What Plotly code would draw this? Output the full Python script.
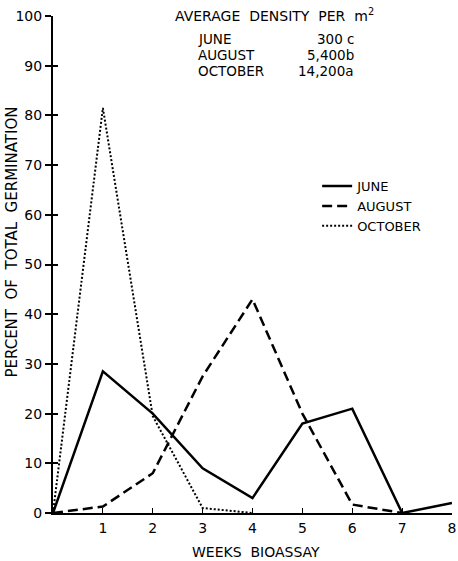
import plotly.graph_objects as go

weeks = [0, 1, 2, 3, 4, 5, 6, 7, 8]
june = [0, 28.5, 20, 9, 3, 18, 21, 0, 2]
august = [0, 1.3, 8, 27.5, 43, 20, 1.7, 0, None]
october = [0, 81.5, 19.5, 1, 0, None, None, None, None]

x_ticks = [1, 2, 3, 4, 5, 6, 7, 8]
y_ticks = [0, 10, 20, 30, 40, 50, 60, 70, 80, 90, 100]

table_months = ["JUNE", "AUGUST", "OCTOBER"]
table_density = ["300 c", "5,400b", "14,200a"]

FONT = "DejaVu Sans"

fig = go.Figure()
fig.add_trace(go.Scatter(x=weeks, y=june, mode="lines", name="JUNE",
                         line=dict(color="black", width=2.5)))
fig.add_trace(go.Scatter(x=weeks, y=august, mode="lines", name="AUGUST",
                         line=dict(color="black", width=2.5, dash="10px,5px")))
fig.add_trace(go.Scatter(x=weeks, y=october, mode="lines", name="OCTOBER",
                         line=dict(color="black", width=2, dash="2px,2px")))
# invisible trace to drive the second (inner tick) y axis
fig.add_trace(go.Scatter(x=[0], y=[0], yaxis="y2", mode="markers",
                         marker=dict(opacity=0), showlegend=False, hoverinfo="skip"))

fig.update_layout(
    width=458, height=561,
    margin=dict(l=53, r=6, t=16, b=48, autoexpand=False),
    paper_bgcolor="white", plot_bgcolor="white",
    font=dict(family=FONT, color="black", size=14),
    showlegend=True,
    legend=dict(x=0.662, y=0.688, xanchor="left", yanchor="top",
                bgcolor="rgba(0,0,0,0)", font=dict(size=13, family=FONT),
                itemwidth=30, tracegroupgap=0),
    xaxis=dict(range=[0, 8], tickvals=x_ticks, ticktext=[str(v) for v in x_ticks],
               showgrid=False, zeroline=False, showline=True, linecolor="black",
               linewidth=1.5, ticks="inside", ticklen=5, tickcolor="black",
               tickwidth=1.2, ticklabelstandoff=1, ticklabeloverflow="allow",
               tickfont=dict(size=14, family=FONT), automargin=False),
    yaxis=dict(range=[0, 100], tickvals=y_ticks, showgrid=False, zeroline=False,
               showline=True, linecolor="black", linewidth=2, ticks="outside",
               ticklen=6, tickcolor="black", tickwidth=1.5, ticklabelstandoff=0,
               tickfont=dict(size=14, family=FONT), automargin=False),
    yaxis2=dict(range=[0, 100], tickvals=y_ticks, overlaying="y", side="left",
                showgrid=False, zeroline=False, showline=False, ticks="inside",
                ticklen=5, tickcolor="black", tickwidth=1.5, showticklabels=False,
                automargin=False),
)

fig.add_annotation(text="WEEKS  BIOASSAY", xref="paper", yref="paper",
                   x=0.51, y=-0.0785, xanchor="center", yanchor="middle",
                   showarrow=False, font=dict(size=14, family=FONT))

fig.add_annotation(text="PERCENT  OF  TOTAL  GERMINATION", textangle=-90,
                   xref="paper", yref="paper", x=-0.103, y=0.546,
                   xanchor="center", yanchor="middle", showarrow=False,
                   font=dict(size=15, family=FONT))

fig.add_annotation(text="AVERAGE  DENSITY  PER  m<sup>2</sup>", xref="paper", yref="paper",
                   x=0.554, y=1.002, xanchor="center", yanchor="middle", showarrow=False,
                   font=dict(size=14, family=FONT))

row_y = [0.954, 0.922, 0.889]
for m, d, yy in zip(table_months, table_density, row_y):
    fig.add_annotation(text=m, xref="paper", yref="paper", x=0.358, y=yy,
                       xanchor="left", yanchor="middle", showarrow=False,
                       font=dict(size=13.5, family=FONT))
    fig.add_annotation(text=d, xref="paper", yref="paper", x=0.759, y=yy,
                       xanchor="right", yanchor="middle", showarrow=False,
                       font=dict(size=13.5, family=FONT))

fig.write_html("out.html", config={"displayModeBar": False},
               post_script="document.body.style.margin='0';document.body.style.overflow='hidden';")
